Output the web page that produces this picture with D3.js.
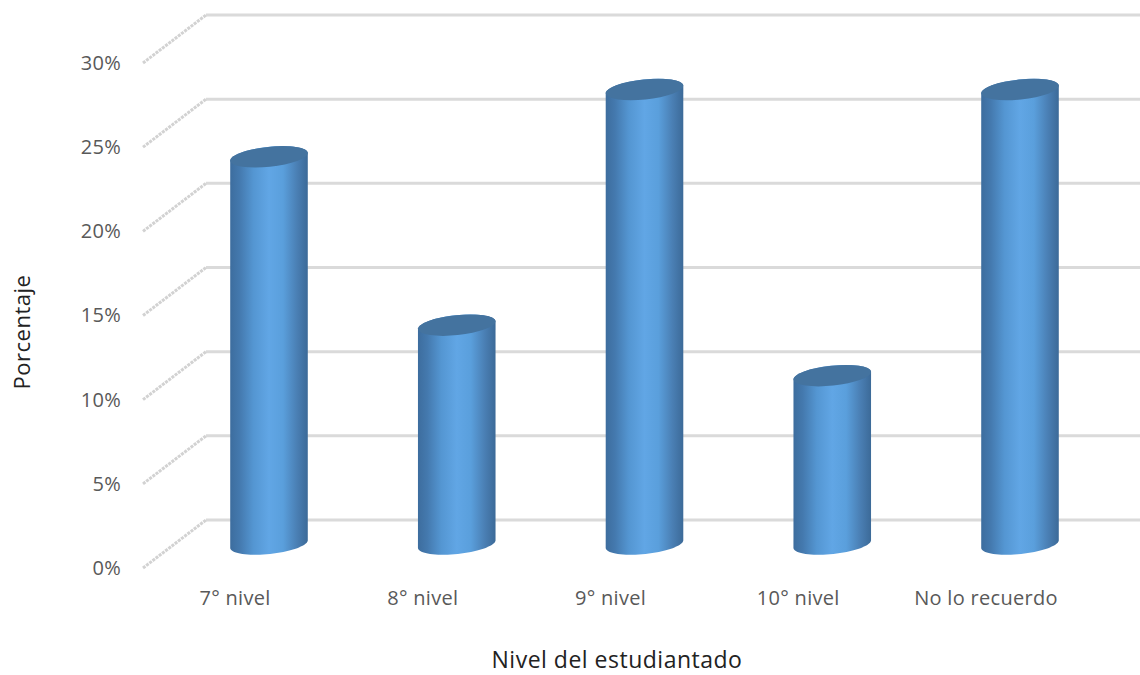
<!DOCTYPE html>
<html>
<head>
<meta charset="utf-8">
<script src="https://cdn.jsdelivr.net/npm/d3@7"></script>
<style>
  html, body { margin: 0; padding: 0; background: #fff; }
  text { font-family: "Open Sans", sans-serif; fill: #595959; }
</style>
</head>
<body>
<div id="chart"></div>
<script>
const niveles = ["7° nivel", "8° nivel", "9° nivel", "10° nivel", "No lo recuerdo"];
const porcentajes = [23, 13, 27, 10, 27];
const ticks = [0, 5, 10, 15, 20, 25, 30];

const width = 1140;
const height = 675;
const depthX = 63;
const depthY = -48;

const svg = d3.select("#chart").append("svg")
    .attr("width", width)
    .attr("height", height)
    .style("display", "block");

const defs = svg.append("defs");
const grad = defs.append("linearGradient").attr("id", "cyl");
[[0, "#3d6d9e"], [0.12, "#4479ae"], [0.3, "#5496d2"], [0.5, "#61a6e5"], [0.68, "#5a9fdc"], [0.86, "#4a7fb4"], [1, "#3c6a98"]]
    .forEach(s => grad.append("stop").attr("offset", s[0]).attr("stop-color", s[1]));
defs.append("filter").attr("id", "soft")
    .append("feGaussianBlur").attr("stdDeviation", 0.7);

// échelle du plan avant (étiquettes), le fond est décalé de depthX / depthY
const y = d3.scaleLinear().domain([0, 30]).range([568, 63]);
const x = d3.scalePoint().domain(niveles).range([269, 1020]);
// base des cylindres, à mi-profondeur
const yBar = d3.scaleLinear().domain([0, 30]).range([544, 39]);

const grid = svg.append("g").attr("filter", "url(#soft)");
grid.selectAll(".back").data(ticks).join("line")
    .attr("class", "back")
    .attr("x1", 143 + depthX).attr("x2", width)
    .attr("y1", d => y(d) + depthY).attr("y2", d => y(d) + depthY)
    .attr("stroke", "#dadada").attr("stroke-width", 3);
grid.selectAll(".side").data(ticks).join("line")
    .attr("class", "side")
    .attr("x1", 143).attr("x2", 143 + depthX)
    .attr("y1", d => y(d)).attr("y2", d => y(d) + depthY)
    .attr("stroke", "#d2d2d2").attr("stroke-width", 3)
    .attr("stroke-dasharray", "3 1");

const yAxis = d3.axisLeft(y).tickValues(ticks).tickSize(0).tickFormat(d => d + "%");
const axisG = svg.append("g").attr("transform", "translate(124,0)").call(yAxis);
axisG.select(".domain").remove();
axisG.selectAll("text").style("font-size", "20px").style("letter-spacing", "0.3px");

const rx = 39;
const ry = 10;
const rot = -6 * Math.PI / 180;

// point de l'ellipse inclinée, autour du centre (cx, cy)
function ellipsePoint(cx, cy, t) {
    const ex = rx * Math.cos(t);
    const ey = ry * Math.sin(t);
    return [cx + ex * Math.cos(rot) - ey * Math.sin(rot), cy + ex * Math.sin(rot) + ey * Math.cos(rot)];
}

const outline = d3.line();
const angles = d3.range(0, 37).map(k => k * Math.PI / 36);

const bars = svg.selectAll(".bar").data(niveles.map((n, i) => ({ n, v: porcentajes[i] }))).join("g").attr("class", "bar");
bars.append("path")
    .attr("fill", "url(#cyl)")
    .attr("d", d => {
        const cx = x(d.n);
        // demi-ellipse du bas puis demi-ellipse arrière du haut
        const bottom = angles.map(t => ellipsePoint(cx, yBar(0), t));
        const top = angles.map(t => ellipsePoint(cx, yBar(d.v), Math.PI + t));
        return outline(bottom.concat(top)) + "Z";
    });
bars.append("ellipse")
    .attr("rx", rx).attr("ry", ry)
    .attr("fill", "#44739f")
    .attr("transform", d => `translate(${x(d.n)},${yBar(d.v)}) rotate(-6)`);

svg.selectAll(".cat").data(niveles).join("text")
    .attr("class", "cat")
    .attr("x", d => x(d) - 34)
    .attr("y", 605)
    .attr("text-anchor", "middle")
    .style("font-size", "20px")
    .style("letter-spacing", "0.3px")
    .text(d => d);

svg.append("text")
    .attr("x", 617).attr("y", 668)
    .attr("text-anchor", "middle")
    .style("font-size", "23px")
    .style("letter-spacing", "0.5px")
    .style("fill", "#222")
    .text("Nivel del estudiantado");

svg.append("text")
    .attr("transform", "translate(30,332) rotate(-90)")
    .attr("text-anchor", "middle")
    .style("font-size", "22px")
    .style("letter-spacing", "0.5px")
    .style("fill", "#222")
    .text("Porcentaje");
</script>
</body>
</html>
